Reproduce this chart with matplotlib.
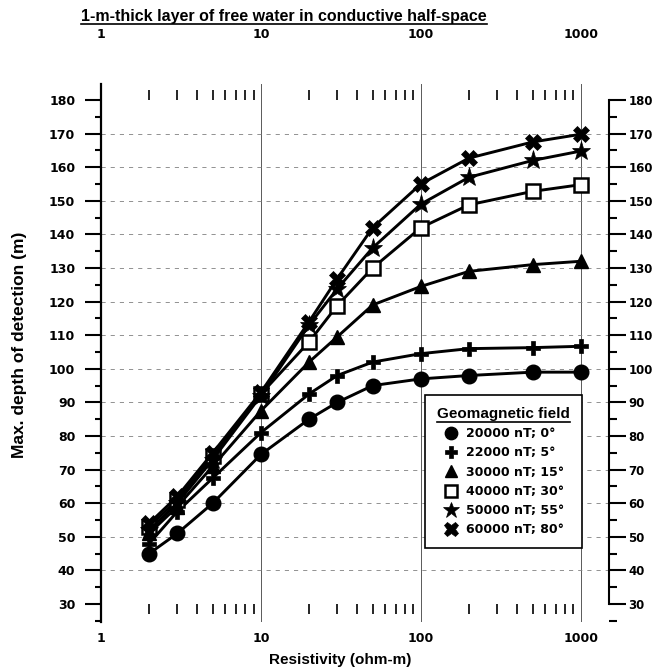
import matplotlib
matplotlib.use("Agg")
import matplotlib.pyplot as plt
import matplotlib.transforms as mtransforms
from matplotlib.lines import Line2D
from matplotlib.ticker import LogLocator, NullFormatter, FixedLocator, MultipleLocator

plt.rcParams['font.family'] = ['Liberation Sans', 'DejaVu Sans']
plt.rcParams['font.weight'] = 'bold'

# ---------------- data ----------------
resistivity = [2, 3, 5, 10, 20, 30, 50, 100, 200, 500, 1000]

depth_20000 = [45, 51, 60, 74.5, 85, 90, 95, 97, 98, 99, 99]
depth_22000 = [48, 57.5, 67.5, 81, 92.5, 98, 102, 104.5, 106, 106.3, 106.7]
depth_30000 = [51, 59, 71, 87.5, 102, 109.5, 119, 124.5, 129, 131, 132]
depth_40000 = [53, 61, 74, 92.5, 108, 118.8, 130, 142, 148.8, 152.8, 154.8]
depth_50000 = [52, 60, 73, 92, 113, 123.8, 136, 149, 157, 162, 164.8]
depth_60000 = [54, 62, 75, 93, 114, 126.8, 142, 155, 162.7, 167.5, 169.8]

labels = ["20000 nT; 0\u00b0", "22000 nT; 5\u00b0", "30000 nT; 15\u00b0",
          "40000 nT; 30\u00b0", "50000 nT; 55\u00b0", "60000 nT; 80\u00b0"]
series = [depth_20000, depth_22000, depth_30000, depth_40000, depth_50000, depth_60000]

x_major = [1, 10, 100, 1000]
y_major = list(range(30, 190, 10))

# marker styles: (marker, size, facecolor, edgewidth)
styles = [("o", 10.5, "black", 1.0),
          ("P", 10.5, "black", 0.5),
          ("^", 10.5, "black", 1.0),
          ("s", 10.5, "white", 1.8),
          ("*", 14, "black", 0.5),
          ("X", 12, "black", 0.5)]

num_font = {"family": "DejaVu Sans", "weight": "bold", "size": 9}
right_font = {"family": "DejaVu Sans", "weight": "bold", "size": 8.5}

W, H = 657, 671
fig = plt.figure(figsize=(W / 100, H / 100), dpi=100)
ax = fig.add_axes([101 / W, 1 - 622 / H, 508 / W, 538 / H])

for vals, (m, ms, fc, mew) in zip(series, styles):
    ax.plot(resistivity, vals, color="black", lw=2.1, marker=m, ms=ms,
            markerfacecolor=fc, markeredgecolor="black", markeredgewidth=mew,
            zorder=3)

ax.set_xscale("log")
ax.set_xlim(1, 10 ** (508 / 159.9))
ax.set_ylim(30 - 18 / 3.36, 180 + 16 / 3.36)

# spines
ax.spines["right"].set_visible(False)
ax.spines["left"].set_linewidth(1.6)
ax.spines["top"].set_position(("data", 180))
ax.spines["bottom"].set_position(("data", 30))
ax.spines["top"].set_color("none")
ax.spines["bottom"].set_color("none")

# x ticks: rows of small ticks at top and bottom
ax.xaxis.set_major_locator(FixedLocator(x_major))
ax.xaxis.set_minor_locator(LogLocator(base=10, subs=range(2, 10)))
ax.xaxis.set_minor_formatter(NullFormatter())
ax.set_xticklabels([str(v) for v in x_major], fontdict=num_font)
ax.tick_params(axis="x", which="major", top=True, bottom=True, labeltop=False,
               labelbottom=True, length=0, pad=20)
ax.tick_params(axis="x", which="minor", top=True, bottom=True, direction="out",
               length=7, width=1.2)

# top labels (1, 10, 100, 1000)
top_tr = mtransforms.blended_transform_factory(ax.transData, fig.transFigure)
for v in x_major:
    ax.text(v, 1 - 34 / H, str(v), transform=top_tr, ha="center", va="center",
            fontdict=num_font)

# y ticks on left
ax.yaxis.set_major_locator(FixedLocator(y_major))
ax.yaxis.set_minor_locator(MultipleLocator(5))
ax.set_yticklabels([str(v) for v in y_major], fontdict=num_font)
ax.tick_params(axis="y", which="major", direction="out", length=11.5, width=1.5, pad=7)
ax.tick_params(axis="y", which="minor", direction="out", length=4.5, width=1.5)

# grid
ax.grid(True, axis="y", which="major", color="0.5", lw=0.6, ls=(0, (5, 6)))
ax.grid(True, axis="x", which="major", color="0.35", lw=0.7, ls="-")
ygl = ax.get_ygridlines()
ygl[0].set_visible(False)
ygl[-1].set_visible(False)
ax.get_xgridlines()[0].set_visible(False)

# right-hand axis
ax2 = ax.twinx()
ax2.set_ylim(ax.get_ylim())
for s in ["left", "top", "bottom"]:
    ax2.spines[s].set_visible(False)
ax2.spines["right"].set_bounds(30, 180)
ax2.spines["right"].set_linewidth(1.5)
ax2.yaxis.set_major_locator(FixedLocator(y_major))
ax2.yaxis.set_minor_locator(MultipleLocator(5))
ax2.set_yticklabels([str(v) for v in y_major], fontdict=right_font)
ax2.tick_params(axis="y", which="major", direction="out", length=12, width=1.5, pad=2)
ax2.tick_params(axis="y", which="minor", direction="out", length=6, width=1.5)

# labels
title = fig.text(284 / W, 1 - 16 / H, "1-m-thick layer of free water in conductive half-space",
                 ha="center", va="center", fontsize=11.5, fontweight="bold")
fig.text(340 / W, 1 - 660 / H, "Resistivity (ohm-m)", ha="center", va="center",
         fontsize=11, fontweight="bold")
fig.text(20 / W, 1 - 345 / H, "Max. depth of detection (m)", ha="center", va="center",
         rotation=90, fontsize=12.5, fontweight="bold")

# legend
handles = [Line2D([], [], ls="none", marker=m, ms=ms * 0.85, markerfacecolor=fc,
                  markeredgecolor="black", markeredgewidth=mew)
           for (m, ms, fc, mew) in styles]
leg = ax2.legend(handles, labels, title="Geomagnetic field", loc="upper left",
                 bbox_to_anchor=(425 / W, 1 - 395 / H), bbox_transform=fig.transFigure,
                 borderaxespad=0, fancybox=False, framealpha=1, edgecolor="black",
                 prop={"family": "DejaVu Sans", "weight": "bold", "size": 9},
                 labelspacing=0.5, handletextpad=0.5, handlelength=1.4, borderpad=0.95)
leg.get_title().set_fontweight("bold")
leg.get_title().set_fontsize(11)
leg.get_frame().set_linewidth(1.2)

# underline the title and the legend title
fig.canvas.draw()
r = fig.canvas.get_renderer()
for txt in [title, leg.get_title()]:
    bb = txt.get_window_extent(r).transformed(fig.transFigure.inverted())
    fig.add_artist(Line2D([bb.x0, bb.x1], [bb.y0 - 0.001, bb.y0 - 0.001],
                          transform=fig.transFigure, color="black", lw=1.2))

fig.savefig("out.png", dpi=100)
